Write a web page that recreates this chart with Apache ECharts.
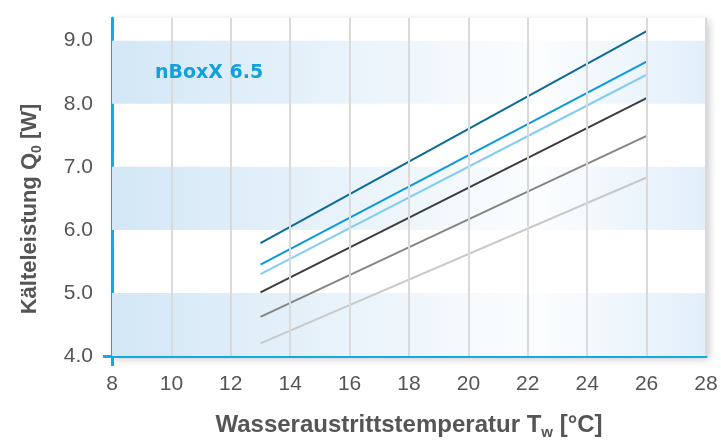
<!DOCTYPE html>
<html><head><meta charset="utf-8">
<script src="https://cdn.jsdelivr.net/npm/echarts@6/dist/echarts.min.js"></script>
<style>html,body{margin:0;padding:0;background:#fff}#c{width:721px;height:442px}</style>
</head><body><div id="c"></div>
<script>
const temps = [13, 26];
const line1 = [5.79, 9.15];
const line2 = [5.45, 8.67];
const line3 = [5.30, 8.46];
const line4 = [5.01, 8.09];
const line5 = [4.62, 7.49];
const line6 = [4.20, 6.83];
const yTicks = [4, 5, 6, 7, 8, 9];
const xGrid = [10, 12, 14, 16, 18, 20, 22, 24, 26, 28];
const bandRanges = [[4, 5], [6, 7], [8, 9]];
const seriesColors = ['#0b6b94', '#0a9ad9', '#84ccf0', '#3c3c3c', '#858585', '#c9c9c9'];
const allLines = [line1, line2, line3, line4, line5, line6];

const font = 'Liberation Sans, Arial, sans-serif';
const bandGrad = new echarts.graphic.LinearGradient(0, 0, 1, 0, [
  {offset: 0, color: '#d3e7f6'},
  {offset: 0.72, color: '#fbfdfe'},
  {offset: 1, color: '#e2effa'}
]);

const chart = echarts.init(document.getElementById('c'));
const series = [
  {type: 'line', name: 'bands', data: [], z: 1, silent: true,
   markArea: {silent: true, itemStyle: {color: bandGrad},
     data: bandRanges.map(r => [{yAxis: r[0]}, {yAxis: r[1]}])}},
  {type: 'line', name: 'grid', data: [], z: 2, silent: true,
   markLine: {silent: true, symbol: 'none', label: {show: false},
     lineStyle: {color: '#dadada', width: 2, type: 'solid'},
     data: xGrid.map(v => ({xAxis: v}))}}
];
allLines.forEach((vals, i) => {
  series.push({type: 'line', z: 3, symbol: 'none', silent: true,
    data: temps.map((t, j) => [t, vals[j]]),
    lineStyle: {color: seriesColors[i], width: 2}});
});

chart.setOption({
  animation: false,
  grid: {left: 112, right: 15, top: 18, bottom: 86, show: true, backgroundColor: '#fff',
    containLabel: false, outerBoundsMode: 'none',
    borderWidth: 0, shadowColor: 'rgba(0,0,0,0.22)', shadowBlur: 8, shadowOffsetX: 3, shadowOffsetY: 3},
  graphic: [{type: 'text', left: 155, top: 64, z: 100,
    style: {text: 'nBoxX 6.5', fill: '#12a0dc', fontSize: 19, fontWeight: 'bold', fontFamily: 'DejaVu Sans, sans-serif'}}],
  xAxis: {type: 'value', min: 8, max: 28, interval: 2,
    axisLine: {lineStyle: {color: '#14a8e6', width: 3}},
    axisTick: {show: true, customValues: [8], length: 10, lineStyle: {color: '#14a8e6', width: 3}},
    axisLabel: {color: '#555', fontSize: 21, fontFamily: font, margin: 18},
    splitLine: {show: false},
    name: '{b|Wasseraustrittstemperatur T}{s|w}{b| [°C]}', nameLocation: 'middle', nameGap: 55,
    nameTextStyle: {rich: {
      b: {fontSize: 24, fontWeight: 'bold', color: '#555', fontFamily: font},
      s: {fontSize: 15, fontWeight: 'bold', color: '#555', fontFamily: font, padding: [14, 0, 0, 0]}
    }}},
  yAxis: {type: 'value', min: 4, max: 9.36, interval: 1,
    axisLine: {lineStyle: {color: '#14a8e6', width: 3}},
    axisTick: {show: true, customValues: [4], length: 9, lineStyle: {color: '#14a8e6', width: 3}},
    axisLabel: {color: '#555', fontSize: 21, fontFamily: font, margin: 19, customValues: yTicks,
      formatter: v => v.toFixed(1)},
    splitLine: {show: false},
    name: '{b|Kälteleistung Q}{s|0}{b| [W]}', nameLocation: 'middle', nameGap: 68, nameRotate: 90,
    nameTextStyle: {padding: [0, 44, 0, 0], rich: {
      b: {fontSize: 22, fontWeight: 'bold', color: '#555', fontFamily: font},
      s: {fontSize: 14, fontWeight: 'bold', color: '#555', fontFamily: font, padding: [14, 0, 0, 0]}
    }}},
  series: series
});
</script></body></html>
